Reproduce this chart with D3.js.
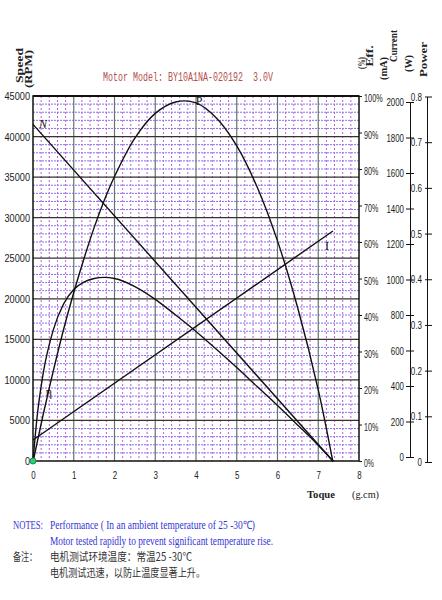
<!DOCTYPE html>
<html>
<head>
<meta charset="utf-8">
<script src="https://cdn.jsdelivr.net/npm/d3@7"></script>
<style>
    body { margin: 0; background: #fff; }
    svg { display: block; }
    .tick-lbl { font-family: "Liberation Sans Narrow", "Arial Narrow", "Liberation Sans", sans-serif; font-size: 11px; fill: #222; }
    .ttl { font-family: "Liberation Serif", "Times New Roman", serif; font-weight: bold; font-size: 11px; fill: #222; }
</style>
</head>
<body>
<div id="chart"></div>
<script>

// ---- data ----
// torque (g.cm) grid used for efficiency and power curves
const torqueT = [0, 0.1, 0.25, 0.5, 0.75, 1.0, 1.25, 1.5, 1.75, 2.0, 2.5, 3.0, 3.5, 4.0, 4.5, 5.0, 5.5, 6.0, 6.5, 7.0, 7.36];
const effPct  = [0, 12, 24, 36, 43, 47, 49, 50, 50.3, 50, 47.8, 44.3, 40, 35.5, 30.6, 25.6, 20.4, 15.2, 9.8, 4.3, 0];
const powerW  = [0, 0.042, 0.104, 0.2, 0.29, 0.371, 0.445, 0.513, 0.573, 0.625, 0.709, 0.763, 0.788, 0.786, 0.753, 0.692, 0.602, 0.484, 0.336, 0.158, 0];

// straight lines: speed and current
const speedT   = [0, 7.36];
const speedRpm = [41500, 0];
const curT     = [0, 7.36];
const curMa    = [115, 1260];

// tick labels
const xTicks     = [0, 1, 2, 3, 4, 5, 6, 7, 8];
const speedTicks = [0, 5000, 10000, 15000, 20000, 25000, 30000, 35000, 40000, 45000];
const effTicks   = [0, 10, 20, 30, 40, 50, 60, 70, 80, 90, 100];
const curTicks   = [0, 200, 400, 600, 800, 1000, 1200, 1400, 1600, 1800, 2000];
const powTicks   = [0, 0.1, 0.2, 0.3, 0.4, 0.5, 0.6, 0.7, 0.8];

const titleText = "Motor Model: BY10A1NA-020192  3.0V";

let width = 442, height = 600;
let plot = {left: 33, right: 359, top: 96, bottom: 461};

let svg = d3.select("#chart").append("svg")
    .attr("width", width)
    .attr("height", height);

// scales
let x = d3.scaleLinear().domain([0, 8]).range([plot.left, plot.right]);
let ySpeed = d3.scaleLinear().domain([0, 45000]).range([plot.bottom, plot.top]);
let yEff = d3.scaleLinear().domain([0, 100]).range([plot.bottom, plot.top]);
let yCur = d3.scaleLinear().domain([0, 2000]).range([plot.bottom, plot.top]);
let yCurAxis = d3.scaleLinear().domain([0, 2000]).range([457, 102]);
let yPow = d3.scaleLinear().domain([0, 0.8]).range([462, 96.5]);

// ---- grid ----
let grid = svg.append("g").attr("class", "grid");

// minor horizontals (blue, every 1000 rpm)
grid.selectAll(".hmin")
    .data(d3.range(1000, 45000, 1000).filter(d => d % 5000 !== 0))
    .enter().append("line")
    .attr("x1", plot.left).attr("x2", plot.right)
    .attr("y1", d => ySpeed(d)).attr("y2", d => ySpeed(d))
    .attr("stroke", "#7878f2")
    .attr("stroke-width", 1)
    .attr("stroke-dasharray", "2,1");

// minor verticals (magenta, every 0.2)
grid.selectAll(".vmin")
    .data(d3.range(1, 40).filter(d => d % 5 !== 0).map(d => d / 5))
    .enter().append("line")
    .attr("x1", d => x(d)).attr("x2", d => x(d))
    .attr("y1", plot.top).attr("y2", plot.bottom)
    .attr("stroke", "#c65ccf")
    .attr("stroke-width", 1)
    .attr("stroke-dasharray", "2,2");

// major verticals
grid.selectAll(".vmaj")
    .data(xTicks.slice(1, -1))
    .enter().append("line")
    .attr("x1", d => x(d)).attr("x2", d => x(d))
    .attr("y1", plot.top).attr("y2", plot.bottom)
    .attr("stroke", "#6e6e6e")
    .attr("stroke-width", 1.2);

// major horizontals
grid.selectAll(".hmaj")
    .data(speedTicks.slice(1, -1))
    .enter().append("line")
    .attr("x1", plot.left).attr("x2", plot.right)
    .attr("y1", d => ySpeed(d)).attr("y2", d => ySpeed(d))
    .attr("stroke", "#333")
    .attr("stroke-width", 1.2);

// frame
svg.append("rect")
    .attr("x", plot.left).attr("y", plot.top)
    .attr("width", plot.right - plot.left)
    .attr("height", plot.bottom - plot.top)
    .attr("fill", "none")
    .attr("stroke", "#111")
    .attr("stroke-width", 1.5);
svg.append("line")
    .attr("x1", plot.left).attr("x2", plot.right)
    .attr("y1", plot.top).attr("y2", plot.top)
    .attr("stroke", "#111").attr("stroke-width", 2.2);

// ---- axes ----
let xAxis = svg.append("g")
    .attr("transform", `translate(0, ${plot.bottom})`)
    .call(d3.axisBottom(x).tickValues(xTicks).tickSize(0).tickPadding(10));

let speedAxis = svg.append("g")
    .attr("transform", `translate(${plot.left}, 0)`)
    .call(d3.axisLeft(ySpeed).tickValues(speedTicks).tickSize(0).tickPadding(3).tickFormat(d3.format("d")));

let effAxis = svg.append("g")
    .attr("transform", `translate(${plot.right}, 0)`)
    .call(d3.axisRight(yEff).tickValues(effTicks).tickSize(3).tickPadding(2).tickFormat(d => d + "%"));

let curAxis = svg.append("g")
    .attr("transform", "translate(410, 0)")
    .call(d3.axisLeft(yCurAxis).tickValues(curTicks).tickSizeInner(4).tickSizeOuter(0).tickPadding(2).tickFormat(d3.format("d")));
curAxis.selectAll(".tick line").attr("x1", -4).attr("x2", 4);

let powAxis = svg.append("g")
    .attr("transform", "translate(427, 0)")
    .call(d3.axisLeft(yPow).tickValues(powTicks).tickSizeInner(3).tickSizeOuter(0).tickPadding(2).tickFormat(d => d === 0 ? "0" : d3.format(".1f")(d)));
powAxis.selectAll(".tick line").attr("x1", -2).attr("x2", 5);

// narrow label widths, like the condensed font in the picture
function labelWidth(s) {
    let w = 0;
    for (let c of s) w += c === "%" ? 5.5 : c === "." ? 2.4 : 4.4;
    return w;
}

[xAxis, speedAxis, effAxis, curAxis, powAxis].forEach(a => {
    a.selectAll("text")
        .attr("class", "tick-lbl")
        .attr("textLength", function() { return labelWidth(this.textContent); })
        .attr("lengthAdjust", "spacingAndGlyphs");
    a.selectAll("line").attr("stroke", "#111");
    a.selectAll(".domain").attr("stroke", "#111");
});
[xAxis, speedAxis, effAxis].forEach(a => a.select(".domain").remove());
effAxis.selectAll("text").attr("dy", "0.5em");
speedAxis.selectAll("text").attr("textLength", function() { return this.textContent.length * 5.1; });

// ---- curves ----
let lineEff = d3.line()
    .x((d, i) => x(torqueT[i]))
    .y(d => yEff(d))
    .curve(d3.curveMonotoneX);
let linePow = d3.line()
    .x((d, i) => x(torqueT[i]))
    .y(d => yPow(d))
    .curve(d3.curveCatmullRom);

svg.append("path").datum(effPct)
    .attr("d", lineEff)
    .attr("fill", "none").attr("stroke", "#111").attr("stroke-width", 1.4);
svg.append("path").datum(powerW)
    .attr("d", linePow)
    .attr("fill", "none").attr("stroke", "#111").attr("stroke-width", 1.4);

svg.append("path").datum(speedRpm)
    .attr("d", d3.line().x((d, i) => x(speedT[i])).y(d => ySpeed(d)))
    .attr("fill", "none").attr("stroke", "#111").attr("stroke-width", 1.4);
svg.append("path").datum(curMa)
    .attr("d", d3.line().x((d, i) => x(curT[i])).y(d => yCur(d)))
    .attr("fill", "none").attr("stroke", "#111").attr("stroke-width", 1.4);

// origin dot
svg.append("circle")
    .attr("cx", x(0)).attr("cy", ySpeed(0)).attr("r", 3)
    .attr("fill", "#2fd35a").attr("stroke", "#148a6a").attr("stroke-width", 1);

// curve labels
let curveLabels = [
    {t: "N", x: 43, y: 128, italic: true},
    {t: "P", x: 199, y: 105, italic: false},
    {t: "I", x: 327, y: 250, italic: false},
    {t: "η", x: 49, y: 396, italic: false}
];
svg.selectAll(".clbl")
    .data(curveLabels)
    .enter().append("text")
    .attr("x", d => d.x).attr("y", d => d.y)
    .attr("text-anchor", "middle")
    .style("font-family", "'Liberation Serif', serif")
    .style("font-size", "12px")
    .style("font-style", d => d.italic ? "italic" : "normal")
    .attr("fill", "#111")
    .text(d => d.t);

// ---- titles ----
svg.append("text")
    .attr("x", 103).attr("y", 81)
    .attr("textLength", 170).attr("lengthAdjust", "spacingAndGlyphs")
    .style("font-family", "'Liberation Mono', 'DejaVu Sans Mono', monospace")
    .style("font-size", "12px")
    .style("white-space", "pre")
    .attr("fill", "#b4504c")
    .text(titleText);

// rotated axis titles
let axisTitles = [
    {t: "Speed", bx: 23, cy: 65.5, len: 35},
    {t: "(RPM)", bx: 32, cy: 69, len: 38},
    {t: "(%)", bx: 365, cy: 63, len: 12},
    {t: "Eff.", bx: 373, cy: 56, len: 21},
    {t: "(mA)", bx: 387, cy: 68.5, len: 23},
    {t: "Current", bx: 397, cy: 46, len: 32},
    {t: "(W)", bx: 412, cy: 63.5, len: 17},
    {t: "Power", bx: 427, cy: 59.5, len: 35}
];
svg.selectAll(".atitle")
    .data(axisTitles)
    .enter().append("text")
    .attr("class", "ttl")
    .attr("transform", d => `translate(${d.bx}, ${d.cy}) rotate(-90)`)
    .attr("text-anchor", "middle")
    .attr("textLength", d => d.len).attr("lengthAdjust", "spacingAndGlyphs")
    .text(d => d.t);

// x axis title
svg.append("text")
    .attr("x", 307).attr("y", 498)
    .attr("textLength", 28).attr("lengthAdjust", "spacingAndGlyphs")
    .attr("class", "ttl")
    .text("Toque");
svg.append("text")
    .attr("x", 352).attr("y", 498)
    .attr("textLength", 27).attr("lengthAdjust", "spacingAndGlyphs")
    .style("font-family", "'Liberation Serif', serif")
    .style("font-size", "11px")
    .attr("fill", "#222")
    .text("(g.cm)");

// ---- notes ----
let notes = [
    {t: "NOTES:", x: 13, y: 529, len: 30, c: "#3535d8", f: "'Liberation Serif', serif"},
    {t: "Performance ( In an ambient temperature of 25 -30℃)", x: 50, y: 529, len: 205, c: "#3535d8", f: "'Liberation Serif', serif"},
    {t: "Motor tested rapidly to prevent significant temperature rise.", x: 50, y: 545, len: 223, c: "#3535d8", f: "'Liberation Serif', serif"},
    {t: "备注：", x: 13, y: 561, len: 24, c: "#333", f: "'Noto Sans CJK SC', sans-serif"},
    {t: "电机测试环境温度：常温25 -30℃", x: 50, y: 561, len: 142, c: "#333", f: "'Noto Sans CJK SC', sans-serif"},
    {t: "电机测试迅速，以防止温度显著上升。", x: 50, y: 577, len: 155, c: "#333", f: "'Noto Sans CJK SC', sans-serif"}
];
svg.selectAll(".note")
    .data(notes)
    .enter().append("text")
    .attr("x", d => d.x).attr("y", d => d.y)
    .attr("textLength", d => d.len).attr("lengthAdjust", "spacingAndGlyphs")
    .style("font-family", d => d.f)
    .style("font-size", "11.5px")
    .attr("fill", d => d.c)
    .text(d => d.t);

</script>
</body>
</html>
